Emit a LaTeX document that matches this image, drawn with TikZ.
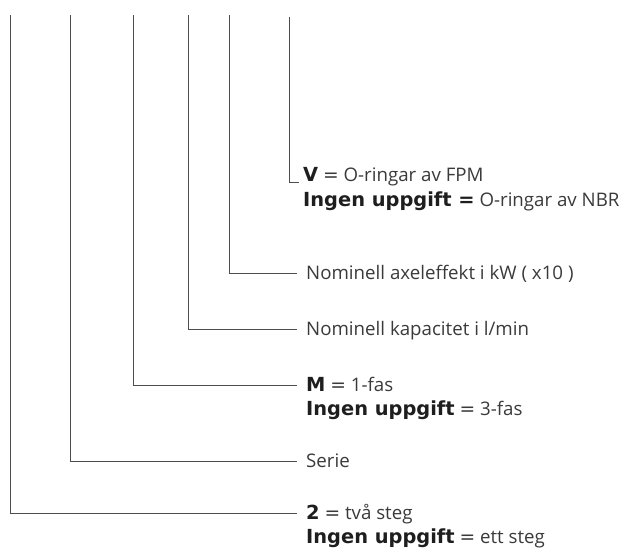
\documentclass[tikz,border=0pt]{standalone}
\usepackage{fontspec}
\setmainfont{Open Sans}
\newfontfamily\heavyfamily{DejaVu Sans}
\usetikzlibrary{positioning}

\definecolor{leadgray}{HTML}{4D4D4D}
\definecolor{textgray}{HTML}{3A3A3A}
\definecolor{heavygray}{HTML}{1E1E1E}

\newcommand{\heavy}[1]{{\heavyfamily\bfseries\fontsize{19.4}{20}\selectfont\color{heavygray}#1}}
\newcommand{\eq}{{\heavyfamily =}}

\tikzset{
	lead/.style={draw=leadgray, line width=0.9pt},
	codetext/.style={anchor=west, inner xsep=9pt, inner ysep=0pt,
		text height=13.3pt, text depth=0pt, text=textgray,
		font=\fontsize{18.7}{20}\selectfont},
	seconds/.style={codetext, below right=10.5pt and 0pt of #1.south west},
}

\begin{document}
\begin{tikzpicture}[x=1pt, y=-1pt]

% frame %{{{2

	\useasboundingbox (0,0) rectangle (631,554);

% parameters %{{{2

	\def\toprow{15}
	\def\textx{297}

% coordinates %{{{2

	\foreach \name/\x in {stage/10, series/70, phase/133, flow/188, power/229} {
		\coordinate (\name) at (\x,\toprow);
	}
	\coordinate (seal) at (289,17);

% texts %{{{2

	\node[codetext, anchor=south west, inner xsep=4pt] (seal1) at (299,182)
		{\heavy{V} \eq{} O-ringar av FPM};
	\node[seconds=seal1, inner xsep=4pt] (seal2)
		{\heavy{Ingen uppgift =} O-ringar av NBR};

	\node[codetext] (power1) at (\textx,273) {Nominell axeleffekt i kW ( x10 )};

	\node[codetext] (flow1) at (\textx,329) {Nominell kapacitet i l/min};

	\node[codetext] (phase1) at (\textx,385) {\heavy{M} \eq{} 1-fas};
	\node[seconds=phase1] (phase2) {\heavy{Ingen uppgift} \eq{} 3-fas};

	\node[codetext] (series1) at (\textx,461) {Serie};

	\node[codetext] (stage1) at (\textx,513) {\heavy{2} \eq{} två steg};
	\node[seconds=stage1] (stage2) {\heavy{Ingen uppgift} \eq{} ett steg};

% leaders %{{{2

	\draw[lead] (seal) |- (seal1.south west);
	\foreach \name in {power, flow, phase, series, stage} {
		\draw[lead] (\name) |- (\name1.west);
	}

% closing %{{{2

\end{tikzpicture}
\end{document}
